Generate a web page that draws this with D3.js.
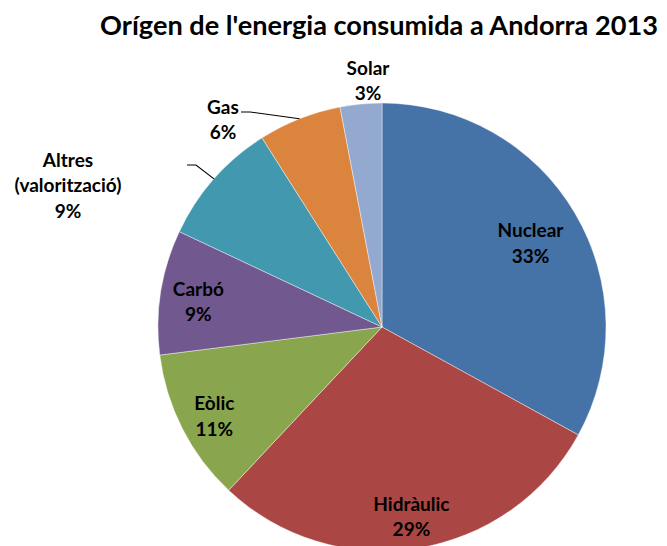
<!DOCTYPE html>
<html lang="ca">
    <head>
        <meta charset="utf-8">
        <title>Orígen de l'energia consumida a Andorra 2013</title>
        <script type="text/javascript" src="https://d3js.org/d3.v7.min.js"></script>
        <style type="text/css">
            body{
                margin: 0;
                background: #fff;
            }
            text{
                font-family: Lato, "Open Sans", sans-serif;
                font-weight: bold;
                fill: #000;
            }
            .slice{
                stroke: #fff;
                stroke-width: .6px;
                stroke-opacity: .7;
            }
            .leader{
                stroke: #000;
                stroke-width: 1.1px;
                fill: none;
            }
        </style>
    </head>
    <body>
        <svg id="chart" width="667" height="546"></svg>
        <script type="text/javascript">
        //data
        const titleText = "Orígen de l'energia consumida a Andorra 2013";
        const sources = ["Nuclear", "Hidràulic", "Eòlic", "Carbó", "Altres (valorització)", "Gas", "Solar"];
        const shares = [33, 29, 11, 9, 9, 6, 3];
        const colours = ["#4572A7", "#AA4643", "#89A54E", "#71588F", "#4198AF", "#DB843D", "#93A9CF"];

        //layout
        const w = 667, h = 546;
        const cx = 382, cy = 327, r = 224;
        const lineGap = 25.5;
        //label lines inside the slice: radius factor; outside: fixed anchor + leader start
        const inside = {"Nuclear": .77, "Hidràulic": .84, "Eòlic": .84, "Carbó": .83};
        const outside = {
            "Altres (valorització)": {x: 68, y: 160, lines: ["Altres", "(valorització)"], leader: [187, 165]},
            "Gas": {x: 223, y: 107, lines: ["Gas"], leader: [241, 112]},
            "Solar": {x: 368, y: 68, lines: ["Solar"], leader: null}
        };

        const svg = d3.select("#chart");
        const data = sources.map((d, i) => ({name: d, value: shares[i], colour: colours[i]}));

        const pie = d3.pie().value(d => d.value).sort(null);
        const arc = d3.arc().innerRadius(0).outerRadius(r);
        const arcs = pie(data);

        const g = svg.append("g").attr("transform", `translate(${cx},${cy})`);

        g.selectAll("path")
            .data(arcs)
            .join("path")
            .attr("class", "slice")
            .attr("d", arc)
            .style("fill", d => d.data.colour);

        //title, sized to the reference width
        const title = svg.append("text")
            .attr("x", 379)
            .attr("y", 35)
            .attr("text-anchor", "middle")
            .style("font-size", "24px")
            .text(titleText);
        const tw = title.node().getComputedTextLength();
        title.style("font-size", (24 * 558 / tw) + "px");

        //label font size from the width of "Nuclear"
        const probe = svg.append("text").style("font-size", "20px").text("Nuclear");
        const labelSize = 20 * 66 / probe.node().getComputedTextLength();
        probe.remove();

        function writeLabel(x, y, lines) {
            const t = svg.append("text")
                .attr("text-anchor", "middle")
                .style("font-size", labelSize + "px");
            lines.forEach((l, i) => {
                t.append("tspan")
                    .attr("x", x)
                    .attr("y", y + i * lineGap)
                    .attr("dy", "0.35em")
                    .text(l);
            });
        }

        arcs.forEach(a => {
            const name = a.data.name;
            const pct = a.data.value + "%";
            if (inside[name] !== undefined) {
                const [lx, ly] = d3.arc().innerRadius(0).outerRadius(2 * r * inside[name]).centroid(a);
                writeLabel(cx + lx, cy + ly - lineGap / 2 + 4, [name, pct]);
            } else {
                const o = outside[name];
                writeLabel(o.x, o.y, o.lines.concat([pct]));
                if (o.leader) {
                    const mid = (a.startAngle + a.endAngle) / 2;
                    const ex = cx + r * Math.sin(mid), ey = cy - r * Math.cos(mid);
                    svg.append("path")
                        .attr("class", "leader")
                        .attr("d", d3.line()([o.leader, [o.leader[0] + 9, o.leader[1]], [ex, ey]]));
                }
            }
        });
        </script>
    </body>
</html>
